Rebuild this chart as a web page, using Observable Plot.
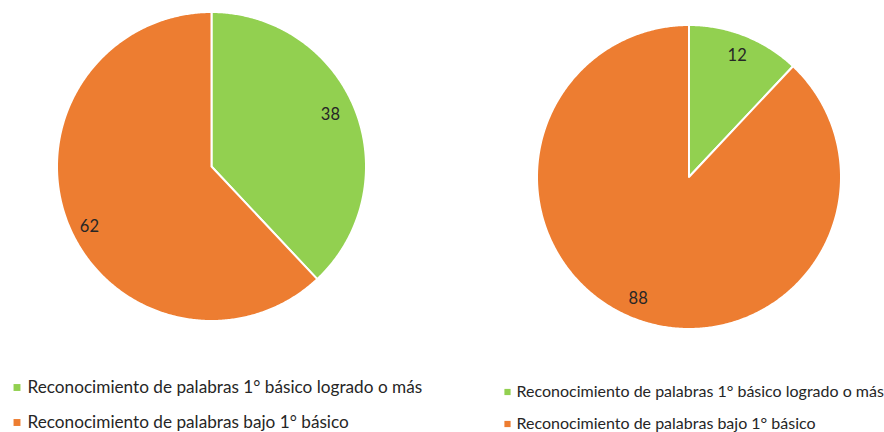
<!DOCTYPE html>
<html><head><meta charset="utf-8">
<script src="https://cdn.jsdelivr.net/npm/d3@7"></script>
<script src="https://cdn.jsdelivr.net/npm/@observablehq/plot@0.6"></script>
<style>body{margin:0;background:#fff;}</style>
</head><body><div id="chart"></div>
<script>
// ---- data ----
const categories = [
  "Reconocimiento de palabras 1° básico logrado o más",
  "Reconocimiento de palabras bajo 1° básico"
];
const leftValues = [38, 62];
const rightValues = [12, 88];
const colors = ["#92D050", "#ED7D31"];

// ---- layout ----
const W = 884, H = 432;
const pies = [
  {name: "left", values: leftValues, cx: 211, cy: 166, r: 154.5, labelR: [0.84, 0.88], labelDA: [-2, -4.5],
   legend: {x: 16.5, ys: [387, 422], tx: 27, fontSize: 17.2, r: 3.9}},
  {name: "right", values: rightValues, cx: 688.5, cy: 176.5, r: 152, labelR: [0.86, 0.87], labelDA: [0, 1],
   legend: {x: 507, ys: [391.5, 423.5], tx: 516, fontSize: 16, r: 3.5}}
];

const slicePts = [], labels = [];
for (const p of pies) {
  const arcs = d3.pie().sort(null)(p.values);
  arcs.forEach((a, i) => {
    const id = p.name + i;
    const pts = [[p.cx, p.cy]];
    const n = Math.max(2, Math.ceil((a.endAngle - a.startAngle) / (Math.PI / 360)));
    for (let k = 0; k <= n; k++) {
      const t = a.startAngle + (a.endAngle - a.startAngle) * k / n;
      pts.push([p.cx + p.r * Math.sin(t), p.cy - p.r * Math.cos(t)]);
    }
    pts.push([p.cx, p.cy]);
    pts.forEach(([x, y]) => slicePts.push({id, cat: categories[i], x, y}));
    const m = (a.startAngle + a.endAngle) / 2 + p.labelDA[i] * Math.PI / 180;
    const lr = p.labelR[i] * p.r;
    labels.push({x: p.cx + lr * Math.sin(m), y: p.cy - lr * Math.cos(m), text: String(p.values[i])});
  });
}

const legendMarks = pies.flatMap(p => {
  const rows = categories.map((c, i) => ({cat: c, x: p.legend.x, tx: p.legend.tx, y: p.legend.ys[i]}));
  return [
    Plot.dot(rows, {x: "x", y: "y", symbol: "square", r: p.legend.r, fill: "cat", stroke: null}),
    Plot.text(rows, {x: "tx", y: "y", text: "cat", textAnchor: "start", fontSize: p.legend.fontSize, fill: "#262626"})
  ];
});

const chart = Plot.plot({
  width: W, height: H, margin: 0,
  x: {domain: [0, W], range: [0, W], axis: null},
  y: {domain: [0, H], range: [0, H], axis: null},
  color: {domain: categories, range: colors},
  style: {fontFamily: "Lato, 'Open Sans', sans-serif", background: "#fff"},
  marks: [
    Plot.line(slicePts, {x: "x", y: "y", z: "id", fill: "cat", stroke: "white", strokeWidth: 2, strokeLinejoin: "round", curve: "linear"}),
    Plot.text(labels, {x: "x", y: "y", text: "text", fontSize: 16.5, fill: "#262626"}),
    ...legendMarks
  ]
});
document.getElementById("chart").append(chart);
</script>
</body></html>
